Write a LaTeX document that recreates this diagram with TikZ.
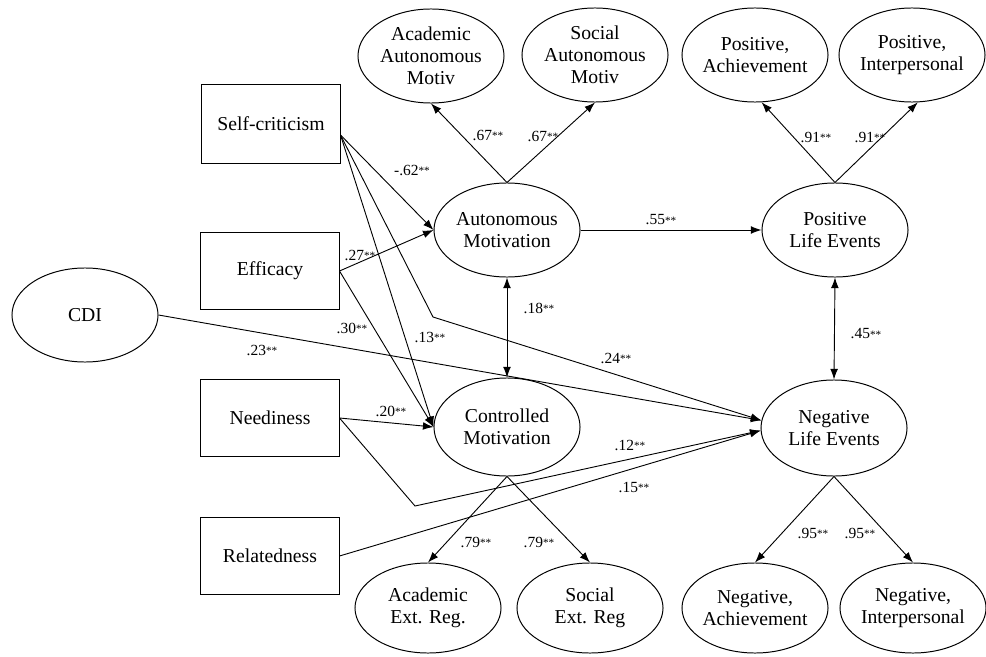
\documentclass[tikz,border=0pt]{standalone}
\usepackage{fontspec}
\setmainfont{Liberation Serif}
\usetikzlibrary{shapes.geometric,arrows.meta}

\newcommand{\coef}[1]{#1{\footnotesize\raisebox{0.1ex}{**}}}

\begin{document}
\begin{tikzpicture}[x=0.025cm,y=-0.025cm,
	latent/.style={ellipse,draw,line width=0.7pt,minimum width=3.65cm,minimum height=2.35cm,
		inner xsep=-10pt,inner ysep=0pt,align=center,font=\fontsize{14}{15.5}\selectfont},
	observed/.style={rectangle,draw,line width=0.7pt,minimum width=3.45cm,minimum height=1.93cm,
		font=\fontsize{14}{15.5}\selectfont},
	effect/.style={-{Latex[length=7.5pt,width=5.5pt]},line width=0.65pt},
	both/.style={{Latex[length=7.5pt,width=5.5pt]}-{Latex[length=7.5pt,width=5.5pt]},line width=0.65pt},
	wt/.style={font=\fontsize{11}{12}\selectfont,inner sep=1pt}]
	
	\useasboundingbox (0,0) rectangle (986,657);
	
	% latent variables
	\node (aam) at (431,56) [latent] {Academic\\Autonomous\\Motiv};
	\node (sam) at (595,55) [latent] {Social\\Autonomous\\Motiv};
	\node (pach) at (755,55) [latent] {Positive,\\Achievement};
	\node (pint) at (912,55) [latent] {Positive,\\Interpersonal};
	\node (auto) at (507,230) [latent] {Autonomous\\Motivation};
	\node (pos) at (835,230) [latent] {Positive\\Life Events};
	\node (cdi) at (85,315) [latent] {CDI};
	\node (ctrl) at (507,427) [latent,minimum height=2.45cm] {Controlled\\Motivation};
	\node (neg) at (834,428) [latent,minimum height=2.4cm] {Negative\\Life Events};
	\node (aer) at (428,608) [latent,minimum height=2.25cm] {Academic\\Ext. Reg.};
	\node (ser) at (590,608) [latent,minimum height=2.25cm] {Social\\Ext. Reg};
	\node (nach) at (755,608) [latent,minimum height=2.25cm] {Negative,\\Achievement};
	\node (nint) at (913,608) [latent,minimum height=2.25cm] {Negative,\\Interpersonal};
	
	% observed variables
	\node (self) at (271,124) [observed,minimum height=1.95cm] {Self-criticism};
	\node (eff) at (270,271) [observed] {Efficacy};
	\node (need) at (270,418) [observed] {Neediness};
	\node (rel) at (270,556) [observed] {Relatedness};
	
	\coordinate (bendS) at (433,317);
	\coordinate (bendN) at (415,506);
	
	% paths
	\draw[effect] (self.-9) -- (auto.west);
	\draw[effect] (eff.east) -- (auto.west);
	\draw[effect] (self.-9) -- (ctrl.west);
	\draw[effect] (eff.east) -- (ctrl.west);
	\draw[effect] (need.east) -- (ctrl.west);
	\draw[effect] (self.-9) -- (bendS) -- (neg.174);
	\draw[effect] (cdi.east) -- (neg.174);
	\draw[effect] (need.east) -- (bendN) -- (neg.182);
	\draw[effect] (rel.east) -- (neg.182);
	\draw[effect] (auto.east) -- (pos.west);
	\draw[both] (auto.south) -- (ctrl.north);
	\draw[both] (pos.south) -- (neg.north);
	
	% loadings
	\draw[effect] (auto.north) -- (aam.south);
	\draw[effect] (auto.north) -- (sam.south);
	\draw[effect] (pos.north) -- (pach.-82);
	\draw[effect] (pos.north) -- (pint.-83);
	\draw[effect] (ctrl.south) -- (aer.north);
	\draw[effect] (ctrl.south) -- (ser.north);
	\draw[effect] (neg.south) -- (nach.north);
	\draw[effect] (neg.south) -- (nint.north);
	
	% coefficients
	\node (c62) at (412,170) [wt] {\coef{-.62}};
	\node (c27) at (360,255) [wt] {\coef{.27}};
	\node (c30) at (352,328) [wt] {\coef{.30}};
	\node (c13) at (430,337) [wt] {\coef{.13}};
	\node (c20) at (391,411) [wt] {\coef{.20}};
	\node (c24) at (616,358) [wt] {\coef{.24}};
	\node (c23) at (262,350) [wt] {\coef{.23}};
	\node (c12) at (630,445) [wt] {\coef{.12}};
	\node (c15) at (634,487) [wt] {\coef{.15}};
	\node (c18) at (539,308) [wt] {\coef{.18}};
	\node (c45) at (866,334) [wt] {\coef{.45}};
	\node (c55) at (661,220) [wt] {\coef{.55}};
	\node (c67a) at (488,135) [wt] {\coef{.67}};
	\node (c67b) at (543,136) [wt] {\coef{.67}};
	\node (c91a) at (816,137) [wt] {\coef{.91}};
	\node (c91b) at (870,137) [wt] {\coef{.91}};
	\node (c79a) at (476,542) [wt] {\coef{.79}};
	\node (c79b) at (539,542) [wt] {\coef{.79}};
	\node (c95a) at (813,533) [wt] {\coef{.95}};
	\node (c95b) at (860,533) [wt] {\coef{.95}};
\end{tikzpicture}
\end{document}
